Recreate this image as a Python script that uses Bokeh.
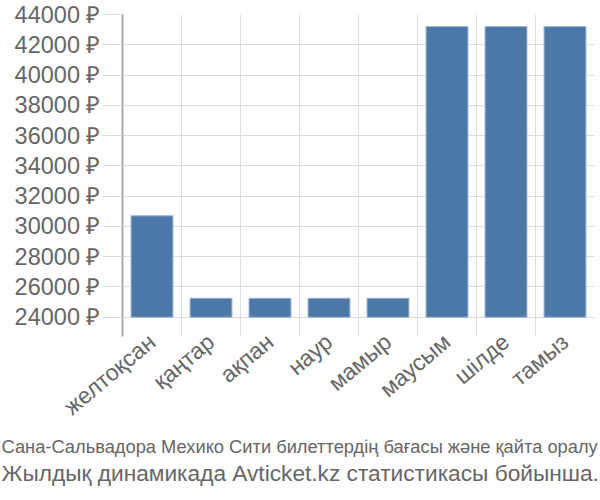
import math
from bokeh.plotting import figure
from bokeh.models import Range1d, FixedTicker, PrintfTickFormatter, Title
from bokeh.embed import file_html
from bokeh.resources import INLINE

categories = ["желтоқсан", "қаңтар", "ақпан", "наур", "мамыр", "маусым", "шілде", "тамыз"]
prices = [30700, 25250, 25250, 25250, 25250, 43200, 43200, 43200]
y_ticks = [24000, 26000, 28000, 30000, 32000, 34000, 36000, 38000, 40000, 42000, 44000]
title_lines = [
    "Сана-Сальвадора Мехико Сити билеттердің бағасы және қайта оралу",
    "Жылдық динамикада Avticket.kz статистикасы бойынша.",
]

FONT = "Liberation Sans"
TXT = "#666666"
GRID = "#dddddd"

centers = [i + 0.5 for i in range(len(categories))]

p = figure(width=600, height=500, output_backend="svg", toolbar_location=None,
           x_range=Range1d(0, len(categories)), y_range=Range1d(22725, 44000),
           min_border_left=122, min_border_right=6, min_border_top=14,
           min_border_bottom=164)
p.outline_line_color = None
p.background_fill_color = "white"
p.border_fill_color = "white"

p.vbar(x=centers, top=prices, bottom=y_ticks[0], width=0.71,
       fill_color="#4c78a8", line_color="#9db3cf", line_width=1)

# grids
p.xgrid.ticker = FixedTicker(ticks=list(range(len(categories) + 1)))
p.ygrid.ticker = FixedTicker(ticks=y_ticks)
p.xgrid.grid_line_color = GRID
p.ygrid.grid_line_color = GRID

# x axis
xa = p.xaxis[0]
xa.ticker = FixedTicker(ticks=centers)
xa.major_label_overrides = {c: n for c, n in zip(centers, categories)}
xa.axis_line_color = None
xa.major_tick_line_color = None
xa.minor_tick_line_color = None
xa.major_label_orientation = math.radians(40)
xa.major_label_text_font = FONT
xa.major_label_text_font_size = "23px"
xa.major_label_text_color = TXT
xa.major_label_standoff = -4

# y axis
ya = p.yaxis[0]
ya.ticker = FixedTicker(ticks=y_ticks)
ya.formatter = PrintfTickFormatter(format="%d ₽")
ya.axis_line_color = "#aaaaaa"
ya.axis_line_width = 2
ya.major_tick_line_color = GRID
ya.major_tick_out = 20
ya.major_tick_in = 0
ya.minor_tick_line_color = None
ya.major_label_text_font = FONT
ya.major_label_text_font_size = "23.5px"
ya.major_label_text_color = TXT
ya.major_label_standoff = 2

t1 = Title(text=title_lines[0], align="left", offset=-121,
           text_font=FONT, text_font_size="18.3px", text_font_style="normal",
           text_color=TXT, standoff=2)
t2 = Title(text=title_lines[1], align="left", offset=-121,
           text_font=FONT, text_font_size="22.7px", text_font_style="normal",
           text_color=TXT, standoff=0)
p.add_layout(t1, "below")
p.add_layout(t2, "below")

open("out.html", "w").write(file_html(p, INLINE))
